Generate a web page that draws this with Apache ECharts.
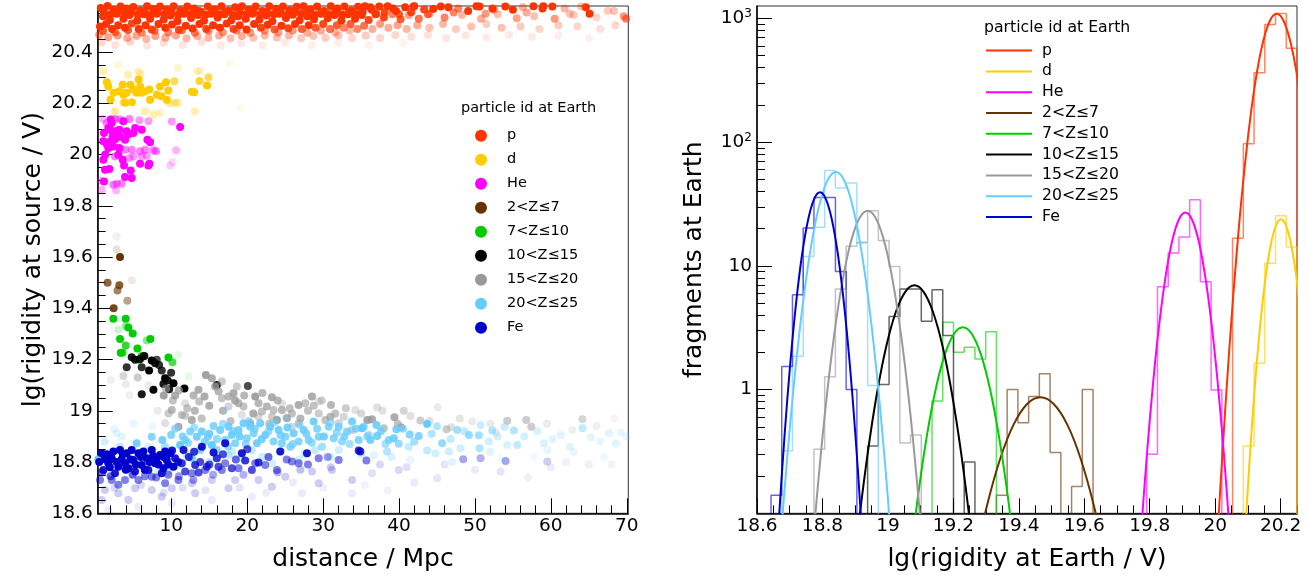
<!DOCTYPE html>
<html><head><meta charset="utf-8">
<script src="https://cdn.jsdelivr.net/npm/echarts@6/dist/echarts.min.js"></script>
<style>html,body{margin:0;padding:0;background:#fff}#c{width:1307px;height:585px}</style>
</head><body><div id="c"></div>
<script>
const FONT = 'DejaVu Sans';
const particleNames = ['p','d','He','2<Z≤7','7<Z≤10','10<Z≤15','15<Z≤20','20<Z≤25','Fe'];
const particleColors = ['#ff3300','#ffcc00','#ff00ff','#663300','#00cc00','#000000','#999999','#66ccff','#0000cc'];

// tick labels
const distTicks = [10,20,30,40,50,60,70];
const srcRigTicks = [18.6,18.8,19,19.2,19.4,19.6,19.8,20,20.2,20.4];
const earthRigTicks = [18.6,18.8,19,19.2,19.4,19.6,19.8,20,20.2];
const countTicks = [1,10,100,1000];

// left panel: [distance / Mpc, lg(rigidity at source / V), weight-opacity]
const ptsP = [
[0.7,20.572,1],[1.6,20.58,1],[2.4,20.565,1],[3.3,20.578,1],[4.1,20.57,1],[5.0,20.576,1],[5.9,20.562,1],[6.8,20.579,1],[7.6,20.568,1],[8.5,20.578,1],[9.4,20.566,1],[10.3,20.579,1],[11.2,20.563,1],[12.1,20.578,1],[13.0,20.57,1],[13.9,20.558,1],[14.8,20.578,1],[15.7,20.566,1],[16.6,20.579,1],[17.5,20.561,1],[18.4,20.575,1],[19.3,20.579,1],[20.2,20.565,1],[21.1,20.578,1],[22.0,20.56,1],[22.9,20.579,1],[23.8,20.569,1],[24.7,20.578,1],[25.6,20.563,1],[26.5,20.577,1],[27.4,20.579,1],[28.3,20.566,1],[29.2,20.578,1],[30.1,20.56,1],[31.0,20.579,1],[31.9,20.57,1],[32.8,20.578,1],[33.7,20.562,1],[34.6,20.577,1],[35.5,20.579,1],[36.4,20.565,1],[37.4,20.578,1],[38.5,20.579,1],[39.6,20.56,1],[40.8,20.575,1],[42.0,20.579,1],[43.3,20.566,0.9],[45.5,20.578,1],[47.8,20.57,0.6],[50.2,20.579,1],[52.5,20.565,0.5],[54.0,20.578,1],[56.3,20.575,0.4],[59.0,20.579,1],[61.8,20.57,0.35],[64.0,20.578,0.3],[67.5,20.56,0.25],
[36.2,20.575,1],[39.2,20.57,1],[41.9,20.578,1],[44.5,20.568,1],[46.5,20.575,1],[49.1,20.56,1],[50.6,20.578,1],[52.3,20.57,1],[55.0,20.565,1],[57.7,20.579,1],[58.9,20.57,1],[60.2,20.578,1],[64.6,20.575,1],[65.1,20.55,1],[68.3,20.56,0.3],[69.9,20.53,0.6],
[1.1,20.556,1],[2.0,20.548,1],[2.9,20.56,1],[3.8,20.55,1],[4.7,20.558,1],[5.6,20.546,1],[6.5,20.556,1],[7.3,20.545,1],[8.2,20.558,1],[9.1,20.548,1],[10.0,20.557,1],[10.9,20.545,1],[11.8,20.556,1],[12.7,20.55,1],[13.6,20.56,1],[14.5,20.546,1],[15.4,20.556,1],[16.3,20.548,1],[17.2,20.558,1],[18.1,20.545,1],[19.0,20.556,1],[19.9,20.548,1],[20.8,20.558,1],[21.7,20.546,1],[22.6,20.556,1],[23.5,20.548,1],[24.4,20.56,1],[25.3,20.546,1],[26.2,20.556,1],[27.1,20.55,1],[28.0,20.558,1],[28.9,20.546,1],[29.8,20.556,1],[30.7,20.548,1],[31.6,20.558,1],[32.5,20.546,1],[33.4,20.556,1],[34.3,20.548,1],[35.2,20.558,1],[36.9,20.548,0.9],[38.1,20.556,0.9],[40.0,20.548,0.8],[41.6,20.556,0.9],[43.8,20.548,0.7],[47.2,20.555,0.6],[51.4,20.55,0.5],[56.8,20.555,0.4],[62.5,20.55,0.3],
[1.0,20.54,1],[1.9,20.525,1],[2.8,20.55,1],[3.7,20.53,1],[4.5,20.545,1],[5.5,20.522,1],[6.4,20.548,1],[7.2,20.53,1],[8.1,20.55,1],[9.0,20.527,1],[9.9,20.543,1],[10.8,20.52,1],[11.7,20.55,1],[12.6,20.533,1],[13.5,20.545,1],[14.3,20.522,1],[15.2,20.55,1],[16.1,20.535,1],[17.0,20.548,1],[17.9,20.524,1],[18.8,20.54,1],[19.8,20.53,1],[20.7,20.55,1],[21.6,20.526,1],[22.5,20.543,1],[23.3,20.52,1],[24.2,20.55,1],[25.1,20.533,1],[26.0,20.546,1],[26.9,20.524,1],[27.9,20.54,1],[28.8,20.528,1],[29.7,20.55,1],[30.6,20.532,1],[31.5,20.545,1],[32.4,20.523,1],[33.3,20.548,1],[34.2,20.53,1],[35.1,20.545,1],[36.0,20.525,0.9],[37.0,20.55,0.8],[38.0,20.535,0.9],[39.1,20.548,0.6],[40.2,20.528,0.8],[41.3,20.545,0.5],[42.6,20.53,0.7],[44.0,20.55,0.45],[46.0,20.535,0.6],[48.3,20.545,0.35],[50.8,20.53,0.4],[53.0,20.548,0.3],[55.5,20.532,0.45],[57.8,20.54,0.3],[60.5,20.53,0.5],[63.0,20.545,0.25],[66.0,20.535,0.2],[69.6,20.54,0.5],
[0.6,20.5,1],[1.4,20.51,1],[2.2,20.49,1],[3.0,20.505,1],[3.9,20.495,1],[4.8,20.512,0.9],[5.7,20.49,1],[6.6,20.505,1],[7.4,20.488,0.9],[8.3,20.51,1],[9.2,20.495,1],[10.1,20.508,1],[11.0,20.487,0.9],[11.9,20.503,1],[12.8,20.492,1],[13.7,20.51,1],[14.6,20.49,0.9],[15.5,20.505,1],[16.4,20.495,1],[17.3,20.512,1],[18.2,20.49,0.9],[19.0,20.505,1],[19.9,20.488,1],[20.9,20.51,1],[21.8,20.495,0.9],[22.7,20.507,1],[23.6,20.488,0.8],[24.5,20.503,1],[25.4,20.493,0.9],[26.3,20.51,1],[27.2,20.49,0.8],[28.1,20.505,1],[29.0,20.495,0.8],[30.0,20.51,0.9],[30.9,20.49,0.7],[31.8,20.505,0.8],[32.7,20.495,0.6],[33.6,20.51,0.8],[34.5,20.49,0.6],[35.4,20.503,0.7],[36.5,20.49,0.4],[37.5,20.51,0.5],[38.6,20.495,0.4],[39.8,20.505,0.45],[41.0,20.49,0.35],[42.4,20.505,0.4],[44.0,20.495,0.3],[45.8,20.51,0.35],[47.5,20.49,0.25],[49.5,20.5,0.3],[51.5,20.51,0.25],[53.5,20.495,0.3],[56.0,20.5,0.25],[58.5,20.49,0.2],[61.0,20.505,0.25],[63.5,20.5,0.2],[66.5,20.49,0.15],[68.5,20.505,0.2],
[1.0,20.482,0.8],[2.6,20.478,0.7],[4.3,20.485,0.8],[6.1,20.476,0.6],[7.8,20.483,0.7],[9.6,20.477,0.6],[11.4,20.485,0.7],[13.1,20.476,0.6],[14.9,20.483,0.6],[16.8,20.477,0.5],[18.6,20.484,0.6],[20.4,20.476,0.5],[22.3,20.483,0.5],[24.1,20.477,0.45],[26.0,20.484,0.5],[27.9,20.476,0.4],[29.7,20.483,0.4],[31.6,20.477,0.35],[33.5,20.484,0.35],
[0.5,20.468,0.5],[1.7,20.458,0.45],[2.9,20.465,0.5],[4.2,20.455,0.4],[5.4,20.464,0.45],[6.7,20.452,0.35],[7.9,20.463,0.45],[9.2,20.456,0.4],[10.6,20.465,0.45],[12.0,20.454,0.35],[13.4,20.463,0.4],[14.9,20.456,0.35],[16.3,20.465,0.4],[17.8,20.454,0.3],[19.3,20.463,0.4],[20.8,20.456,0.3],[22.3,20.465,0.35],[23.9,20.457,0.3],[25.5,20.465,0.35],[27.1,20.454,0.25],[28.7,20.463,0.3],[30.3,20.456,0.25],[32.0,20.465,0.3],[33.8,20.454,0.2],[35.6,20.465,0.25],[37.5,20.455,0.2],[39.5,20.467,0.2],[41.6,20.46,0.15],[43.8,20.467,0.15],[46.2,20.455,0.12],[48.8,20.465,0.12],[51.5,20.457,0.1],[54.5,20.467,0.1],[57.5,20.46,0.1],[61.0,20.465,0.08],[65.0,20.455,0.08],
[0.8,20.438,0.2],[2.6,20.428,0.15],[4.6,20.44,0.2],[6.8,20.426,0.12],[9.0,20.437,0.15],[11.5,20.428,0.12],[14.0,20.44,0.15],[16.5,20.426,0.1],[19.2,20.436,0.12],[22.0,20.426,0.1],[25.0,20.438,0.1],[28.5,20.428,0.08],[32.0,20.436,0.08],[36.0,20.428,0.06],[40.5,20.436,0.06]
];
const ptsD = [
[1.7,20.266,1],[1.5,20.282,1],[2.4,20.241,1],[2.0,20.214,1],[3.15,20.247,1],[3.7,20.234,1],[3.6,20.273,1],[4.1,20.241,1],[4.6,20.273,1],[5.0,20.254,1],[5.4,20.241,1],[5.7,20.293,1],[5.9,20.266,1],[6.1,20.241,1],[6.5,20.247,1],[7.1,20.254,1],[3.9,20.202,1],[4.8,20.204,1],[7.2,20.214,1],[8.1,20.234,1],[8.5,20.266,1],[8.7,20.228,1],[9.3,20.282,1],[9.6,20.25,1],[9.4,20.214,1],[10.4,20.286,0.7],[12.7,20.245,1],[13.0,20.243,1],[13.7,20.287,0.8],[14.7,20.27,1],[14.9,20.302,0.7],
[1.04,20.325,0.3],[4.3,20.312,0.3],[5.66,20.325,0.25],[2.58,20.169,0.4],[7.64,20.156,0.3],[10.5,20.202,0.4],[10.8,20.202,0.35],[13.1,20.169,0.3],[13.4,20.325,0.25],[13.8,20.325,0.2],[10.85,20.338,0.2],[17.7,20.357,0.1],[19.1,20.183,0.1],[3.0,20.35,0.15],[5.9,20.316,0.3],[9.8,20.2,0.4],[3.7,20.204,0.5],[6.54,20.169,0.3],[8.5,20.163,0.25]
];
const ptsHe = [
[1.13,20.084,1],[1.7,20.104,1],[1.92,20.097,1],[2.14,20.123,1],[2.36,20.091,1],[1.04,20.052,1],[2.01,20.052,1],[1.7,20.026,1],[2.36,20.032,1],[3.15,20.026,1],[2.27,20.071,1],[2.8,20.091,1],[3.15,20.097,1],[3.9,20.058,1],[4.12,20.091,1],[4.34,20.078,1],[5.0,20.084,1],[5.24,20.104,1],[6.1,20.097,1],[6.85,20.058,1],[7.2,20.048,1],[3.68,20.13,1],[2.01,20.137,1],[1.04,19.98,1],[1.26,19.941,1],[1.83,19.944,1],[3.02,19.999,1],[3.59,19.98,1],[3.77,19.957,1],[5.88,19.964,1],[6.98,19.957,1],[7.11,19.964,1],[4.65,19.938,1],[3.9,19.913,1],[4.78,19.909,1],[1.13,19.895,1],[11.16,20.108,1],[1.3,20.0,1],[2.6,20.06,1],[1.5,20.04,1],[3.3,20.07,1],
[1.48,20.123,0.5],[2.58,20.139,0.5],[3.24,20.137,0.5],[4.47,20.139,0.5],[5.79,20.134,0.4],[6.98,20.13,0.4],[10.06,20.129,0.4],[3.9,20.019,0.5],[4.78,20.019,0.5],[5.88,20.013,0.5],[6.54,20.019,0.5],[7.64,20.017,0.5],[7.99,20.013,0.5],[10.63,20.017,0.3],[2.58,19.993,0.5],[4.47,19.987,0.4],[5.0,19.993,0.4],[6.1,19.993,0.4],[6.76,19.996,0.4],[2.36,19.882,0.5],[2.8,19.886,0.5],[3.46,19.886,0.5],[2.71,19.861,0.3],[0.82,19.863,0.3],[0.69,19.899,0.3],[9.84,19.957,0.2],[10.19,19.97,0.15],[0.96,20.139,0.3]
];
const ptsZ2 = [[3.24,19.6,1],[1.6,19.5,0.75],[3.15,19.49,0.8],[2.9,19.47,0.6],[4.2,19.43,0.45],[2.4,19.4,0.9],[2.8,19.63,0.15],[4.8,19.51,0.1],[2.8,19.68,0.08]];
const ptsZ7 = [[2.36,19.359,1],[3.99,19.359,1],[4.34,19.325,1],[4.91,19.302,1],[3.24,19.28,1],[3.99,19.255,0.8],[5.53,19.243,1],[3.33,19.227,1],[3.59,19.227,0.8],[7.24,19.28,1],[6.76,19.274,0.45],[6.1,19.214,0.9],[5.75,19.199,0.9],[9.62,19.208,1],[10.15,19.19,0.7],[3.02,19.316,0.2],[10.94,19.218,0.1],[12.26,19.134,0.1],[4.0,19.33,0.4]];
const ptsZ10 = [[4.78,19.209,0.9],[5.22,19.199,0.9],[5.88,19.202,0.9],[6.45,19.214,0.9],[4.12,19.17,0.8],[6.1,19.17,0.8],[7.07,19.157,1],[7.42,19.196,1],[7.86,19.186,0.9],[8.39,19.179,0.8],[8.74,19.157,0.8],[9.18,19.127,1],[9.53,19.118,0.9],[8.96,19.105,0.9],[9.97,19.149,0.8],[10.28,19.108,1],[9.71,19.084,0.9],[11.73,19.087,1],[7.64,19.082,1],[6.1,19.065,0.9],[16.0,19.101,0.9],[20.08,19.097,0.7],[6.32,19.212,0.6],[8.08,19.199,0.7]];
const ptsZ15 = [
[3.68,19.136,0.4],[3.99,19.104,0.2],[5.57,19.13,0.5],[9.0,19.06,0.9],[9.31,19.086,0.6],[10.5,19.06,0.8],[9.62,18.99,0.5],[10.06,19.003,0.7],[10.94,18.938,0.8],[11.38,18.984,0.6],[11.82,18.981,0.5],[12.7,18.964,0.8],[12.92,19.06,0.7],[13.58,19.082,0.8],[14.37,19.056,0.8],[13.67,19.036,0.6],[14.55,19.14,0.9],[15.34,19.127,0.8],[15.78,19.095,0.8],[16.22,19.075,0.7],[16.65,19.049,0.6],[17.53,19.056,0.7],[18.19,19.069,0.8],[18.85,19.03,0.7],[19.51,19.017,0.6],[20.39,18.951,0.8],[21.05,19.056,0.9],[21.49,19.03,0.7],[21.93,18.997,0.6],[22.59,19.017,0.7],[23.25,19.053,0.8],[23.47,19.003,0.6],[23.91,18.964,0.9],[24.57,19.003,0.7],[25.23,18.971,0.8],[25.89,18.99,0.6],[26.77,19.023,0.8],[27.65,19.03,0.6],[28.53,19.056,0.8],[28.75,19.02,0.6],[29.41,18.99,0.5],[30.29,18.964,0.6],[31.03,19.023,0.7],[30.95,18.977,0.7],[32.71,18.977,0.4],[33.81,18.925,0.5],[32.05,18.951,0.4],[26.77,18.951,0.5],[25.89,18.938,0.4],[23.25,18.977,0.5],[17.53,19.017,0.4],[18.63,19.095,0.5],[16.65,19.114,0.5],[11.82,19.03,0.3],[9.18,18.951,0.3],[19.29,18.984,0.3],[21.49,18.977,0.4],[36.0,18.964,0.4],[24.57,19.03,0.3],[29.41,19.036,0.3],[34.25,19.003,0.3],
[35.8,18.964,0.8],[36.44,18.967,0.8],[37.98,18.932,0.6],[39.39,18.975,0.8],[39.83,18.949,0.6],[40.27,18.936,0.7],[40.62,19.0,0.4],[42.82,18.962,0.5],[46.25,18.928,0.5],[46.87,18.936,0.3],[54.25,18.961,0.5],[56.76,18.964,0.5],[57.42,18.938,0.5],[64.15,18.967,0.4],[37.1,19.014,0.3],[45.1,19.014,0.2],[49.64,18.958,0.2],[52.71,18.915,0.2],[62.83,18.925,0.15],[68.33,18.971,0.1],
[10.2,19.04,0.6],[11.0,19.08,0.7],[12.1,19.01,0.6],[13.1,19.0,0.7],[14.0,18.97,0.6],[15.0,19.02,0.8],[16.8,19.0,0.7],[17.8,18.96,0.6],[18.4,19.04,0.8],[19.6,19.06,0.7],[20.8,18.99,0.8],[22.0,19.07,0.7],[22.9,18.95,0.6],[24.0,19.04,0.7],[25.6,19.01,0.6],[27.0,18.97,0.7],[28.0,19.0,0.6],[29.8,19.04,0.5],[31.6,18.99,0.6],[33.0,19.01,0.5],[35.0,18.99,0.4],[37.8,19.0,0.3],[41.5,18.98,0.3],[44.0,18.96,0.3],[48.0,18.97,0.25],[52.0,18.95,0.2],[59.5,18.95,0.2],[66.0,18.94,0.15],
[2.0,19.12,0.15],[4.5,19.06,0.15],[7.0,19.1,0.2],[8.2,19.0,0.2]
];
const ptsZ20 = [
[0.38,18.811,1],[5.44,18.873,0.9],[7.42,18.899,0.8],[8.83,18.886,0.9],[9.18,18.86,0.6],[9.97,18.906,0.8],[11.16,18.867,1],[11.82,18.886,0.8],[12.48,18.919,0.8],[12.7,18.815,0.9],[13.36,18.899,0.9],[13.8,18.847,0.8],[14.02,18.919,0.9],[14.81,18.899,0.8],[15.34,18.867,1],[15.56,18.941,0.8],[15.99,18.847,0.7],[16.43,18.925,0.9],[17.09,18.886,0.8],[17.53,18.938,0.9],[17.97,18.906,0.9],[18.41,18.873,0.8],[18.85,18.925,0.9],[19.51,18.951,0.9],[19.95,18.893,0.8],[20.39,18.938,0.9],[20.83,18.912,0.8],[21.27,18.873,0.9],[21.71,18.951,0.9],[22.37,18.906,0.9],[23.03,18.938,0.9],[23.47,18.88,0.8],[24.13,18.925,0.9],[24.57,18.873,0.8],[25.01,18.899,0.8],[25.67,18.86,0.8],[26.11,18.912,0.9],[26.77,18.88,0.8],[27.43,18.925,0.9],[28.09,18.886,0.8],[28.75,18.958,0.9],[29.41,18.899,0.8],[29.85,18.86,0.6],[30.73,18.938,0.8],[31.39,18.893,0.8],[32.05,18.938,0.8],[32.49,18.88,0.7],[33.15,18.919,0.8],[33.81,18.958,0.9],[34.68,18.886,0.8],[35.34,18.938,0.8],[36.0,18.906,0.6],
[24.35,18.841,0.4],[26.77,18.808,0.3],[28.97,18.847,0.4],[32.05,18.847,0.3],[23.25,18.795,0.3],[20.61,18.847,0.4],[17.53,18.828,0.4],[19.29,18.815,0.3],[10.94,18.789,0.4],[9.62,18.763,0.4],[8.3,18.763,0.3],[6.98,18.86,0.3],[3.46,18.899,0.2],[4.78,18.815,0.3],[2.8,18.912,0.2],[17.09,19.003,0.2],[25.01,18.977,0.2],
[35.13,18.932,1],[36.22,18.886,0.9],[37.02,18.945,0.9],[37.1,18.902,0.9],[38.64,18.886,0.8],[39.3,18.893,0.9],[39.65,18.928,0.9],[39.96,18.871,0.7],[41.41,18.908,0.8],[42.6,18.902,0.8],[43.7,18.949,1],[45.68,18.873,0.7],[47.66,18.925,0.6],[49.2,18.906,0.7],[50.52,18.905,0.6],[50.6,18.854,0.5],[52.28,18.923,0.5],[55.13,18.923,0.5],[55.57,18.867,0.4],[64.15,18.932,0.4],[38.42,18.841,0.5],[41.28,18.86,0.4],[43.7,18.845,0.4],[44.8,18.834,0.3],[46.56,18.841,0.3],[48.1,18.854,0.3],[54.25,18.867,0.25],[59.09,18.873,0.25],[61.29,18.906,0.2],[65.25,18.897,0.2],[67.67,18.912,0.2],[68.55,18.871,0.2],[59.53,18.847,0.15],[57.77,18.821,0.1],[53.37,18.815,0.1],[41.5,18.808,0.15],[36.66,18.828,0.2],[50.74,18.945,0.35],[53.9,18.938,0.35],[69.2,18.915,0.15],
[2.5,18.93,0.15],[5.0,18.95,0.15],[7.5,18.94,0.12],[1.2,18.88,0.3],[3.2,18.86,0.4],
[10.5,18.93,0.7],[11.5,18.9,0.8],[12.2,18.875,0.7],[13.0,18.935,0.6],[14.4,18.88,0.8],[15.0,18.91,0.9],[16.0,18.89,0.7],[16.8,18.95,0.6],[17.5,18.86,0.7],[18.2,18.92,0.8],[19.0,18.9,0.9],[19.8,18.87,0.7],[20.2,18.96,0.6],[21.0,18.93,0.8],[21.9,18.89,0.9],[22.8,18.92,0.7],[23.6,18.955,0.6],[24.4,18.905,0.8],[25.3,18.935,0.9],[26.0,18.87,0.7],[26.9,18.945,0.6],[27.8,18.91,0.8],[28.5,18.875,0.7],[29.2,18.93,0.8],[30.1,18.9,0.9],[31.0,18.955,0.6],[31.8,18.915,0.7],[32.8,18.9,0.8],[33.5,18.87,0.6],[34.3,18.93,0.8],[35.8,18.9,0.7],[37.6,18.92,0.8],[38.2,18.87,0.6],[40.5,18.93,0.7],[42.0,18.88,0.6],[44.3,18.91,0.5],[45.0,18.94,0.5],[46.8,18.89,0.4],[48.6,18.92,0.4],[51.8,18.88,0.3],[53.0,18.9,0.3],[56.5,18.9,0.3],[58.2,18.92,0.25],[60.2,18.89,0.2],[62.5,18.86,0.2],[66.5,18.88,0.15],[70.0,18.9,0.15],
[12.0,18.83,0.4],[15.0,18.8,0.35],[18.0,18.84,0.35],[22.0,18.82,0.35],[27.5,18.83,0.3],[31.0,18.82,0.3],[35.0,18.83,0.3],[39.0,18.82,0.25],[47.0,18.8,0.2],[52.0,18.84,0.2],[63.0,18.84,0.15],[67.0,18.82,0.12]
];
const ptsFe = [
[0.82,18.834,1],[1.7,18.795,1],[2.36,18.841,1],[3.02,18.782,1],[3.46,18.811,1],[4.12,18.834,1],[4.34,18.776,1],[5.0,18.808,1],[5.66,18.834,1],[6.1,18.789,1],[6.76,18.815,1],[7.42,18.847,1],[7.86,18.795,1],[8.52,18.828,1],[8.96,18.776,1],[9.4,18.808,1],[9.84,18.834,1],[10.28,18.782,1],[1.04,18.769,0.9],[2.58,18.756,0.9],[5.22,18.763,0.9],[6.98,18.769,0.9],[8.74,18.756,0.9],[3.9,18.795,1],[2.14,18.815,1],[6.32,18.841,1],[8.08,18.815,1],[3.24,18.847,1],[1.26,18.815,1],[4.78,18.847,1],[9.18,18.841,1],[10.5,18.815,0.9],[11.6,18.847,0.9],[14.02,18.86,0.9],[15.56,18.837,0.9],[15.99,18.815,0.8],[17.09,18.873,0.9],[19.29,18.834,0.9],[19.73,18.806,0.8],[21.49,18.798,0.8],[24.35,18.841,0.9],[27.87,18.834,0.9],[34.68,18.845,0.8],[11.38,18.795,0.8],[13.14,18.789,0.8],[14.68,18.782,0.7],[16.21,18.782,0.7],[17.97,18.776,0.7],[20.61,18.769,0.7],[11.82,18.763,0.7],[13.58,18.759,0.7],
[0.5,18.8,1],[1.5,18.83,1],[1.9,18.78,1],[2.8,18.8,1],[3.6,18.83,1],[4.0,18.77,1],[4.6,18.81,1],[5.3,18.79,1],[6.0,18.82,1],[6.5,18.77,1],[7.1,18.8,1],[7.6,18.825,1],[8.3,18.79,1],[9.0,18.82,1],[9.6,18.79,1],[10.1,18.845,0.9],[10.9,18.8,0.9],[12.3,18.82,0.8],[13.0,18.84,0.8],[13.8,18.8,0.7],[15.0,18.79,0.7],[16.8,18.83,0.7],[18.5,18.81,0.6],[20.0,18.85,0.7],[22.8,18.82,0.6],[25.2,18.81,0.5],[28.0,18.79,0.5],[30.6,18.82,0.4],
[0.9,18.76,0.6],[2.0,18.745,0.6],[4.9,18.75,0.6],[6.5,18.745,0.5],[8.0,18.74,0.5],[9.6,18.75,0.5],[11.0,18.745,0.4],[12.9,18.73,0.4],[15.5,18.75,0.35],[19.5,18.75,0.3],[24.0,18.76,0.3],[27.0,18.77,0.25],[31.0,18.78,0.2],[37.5,18.79,0.15],[41.0,18.78,0.12],[46.0,18.79,0.1],[50.0,18.77,0.08],[62.0,18.8,0.06],[68.0,18.79,0.05],
[3.9,18.73,0.5],[5.66,18.73,0.5],[7.42,18.743,0.5],[9.18,18.717,0.5],[10.94,18.73,0.5],[12.7,18.756,0.5],[14.46,18.769,0.5],[16.65,18.769,0.5],[18.85,18.776,0.5],[22.37,18.789,0.5],[25.89,18.802,0.5],[29.41,18.815,0.5],[0.6,18.73,0.5],[2.14,18.73,0.5],[3.02,18.711,0.5],[17.09,18.795,0.5],[21.05,18.795,0.5],[23.91,18.769,0.5],[26.77,18.795,0.5],[32.05,18.808,0.5],
[1.26,18.691,0.2],[3.02,18.678,0.2],[5.22,18.698,0.2],[7.42,18.691,0.2],[10.06,18.698,0.2],[12.7,18.717,0.2],[15.34,18.73,0.2],[18.41,18.73,0.2],[21.49,18.73,0.2],[25.01,18.743,0.2],[28.53,18.763,0.2],[31.17,18.769,0.2],[33.81,18.73,0.2],[0.82,18.652,0.2],[4.34,18.652,0.2],[8.74,18.665,0.2],[13.14,18.678,0.2],[17.53,18.698,0.2],[23.25,18.704,0.2],[29.41,18.717,0.2],
[2.5,18.7,0.15],[6.0,18.71,0.15],[9.0,18.68,0.12],[11.5,18.7,0.12],[14.5,18.69,0.1],[19.0,18.7,0.1],[22.5,18.68,0.08],[26.0,18.72,0.08],[30.0,18.7,0.06],[35.5,18.71,0.05],[38.5,18.69,0.05],
[1.7,18.613,0.08],[5.66,18.626,0.08],[10.06,18.639,0.08],[15.34,18.652,0.08],[20.61,18.665,0.08],[27.21,18.678,0.08],[33.81,18.678,0.08],
[34.9,18.841,0.8],[35.7,18.806,0.5],[48.45,18.811,0.35],[50.74,18.815,0.3],[54.03,18.804,0.35],[59.53,18.802,0.2],[39.96,18.769,0.15],[36.44,18.756,0.12],[45.02,18.737,0.1],[53.37,18.763,0.1],[60,18.78,0.08],[65,18.79,0.06],[42,18.72,0.08],[57,18.74,0.06]
];

// right panel histograms: bin edges start at 18.61, width 0.0328 (50 bins)
const binStart = 18.61, binWidth = 0.0328;
const histFirstBin = [44, 45, 36, 22, 16, 10, 5, 2, 1];
const histP   = [16.7, 97, 363, 891, 1094, 575];
const histD   = [0.35, 1.63, 10.5, 25.4, 14.2];
const histHe  = [0.30, 6.77, 12.7, 17.1, 34.3, 7.45, 0.99];
const histZ2  = [0.14, 1.0, 0.54, 0.88, 1.34, 0.31, 0, 0.165, 1.0];
const histZ7  = [0.81, 3.5, 2.0, 2.2, 1.77, 2.94];
const histZ10 = [0.35, 1.1, 3.9, 6.5, 6.5, 3.56, 6.4, 2.73, 0, 0.26];
const histZ15 = [0.33, 1.27, 6.5, 14.4, 15.5, 27.9, 16, 9.9, 0.37, 0.43];
const histZ20 = [0.32, 1.86, 11.9, 20.5, 59, 42.6, 46.7, 15.3, 1.08];
const histFe  = [0.14, 1.54, 5.85, 20.2, 35.7, 35.7, 9.0, 1.0];

// fitted curves: [lg rigidity at Earth, fragments]
const fitP = [[19.983,0.0036],[20.0035,0.0436],[20.024,0.3657],[20.0445,2.384],[20.065,12.11],[20.0855,47.9],[20.106,147.5],[20.1265,353.9],[20.147,661.1],[20.1675,961.9],[20.188,1090],[20.2085,961.9],[20.229,661.1],[20.2495,353.9],[20.27,147.5]];
const fitD = [[20.073,0.008],[20.089,0.052],[20.105,0.2644],[20.121,1.046],[20.137,3.22],[20.153,7.73],[20.169,14.43],[20.185,21.0],[20.201,23.8],[20.217,21.0],[20.233,14.43],[20.249,7.73],[20.265,3.22]];
const fitHe = [[19.7522,0.00906],[19.7718,0.059],[19.7914,0.3],[19.811,1.186],[19.8306,3.653],[19.8502,8.77],[19.8698,16.38],[19.8894,23.83],[19.909,27],[19.9286,23.83],[19.9482,16.38],[19.9678,8.77],[19.9874,3.653],[20.007,1.186],[20.0266,0.3],[20.0462,0.059],[20.0658,0.00906]];
const fitZ2 = [[19.222,0.00963],[19.2628,0.0381],[19.3034,0.1173],[19.3441,0.2815],[19.3847,0.526],[19.4254,0.765],[19.466,0.867],[19.5067,0.765],[19.5473,0.526],[19.588,0.2815],[19.6286,0.1173],[19.6693,0.0381],[19.71,0.00963]];
const fitZ7 = [[19.0103,0.0011],[19.0376,0.00698],[19.0649,0.0354],[19.0923,0.14],[19.1196,0.432],[19.147,1.036],[19.1743,1.935],[19.2017,2.815],[19.229,3.19],[19.2564,2.815],[19.2837,1.935],[19.3111,1.036],[19.3384,0.432],[19.3658,0.14],[19.3931,0.0354],[19.4205,0.00698],[19.4478,0.0011]];
const fitZ10 = [[18.8527,0.0023],[18.8812,0.0152],[18.9097,0.0773],[18.9383,0.306],[18.9668,0.942],[18.9954,2.26],[19.0239,4.22],[19.0525,6.14],[19.081,6.96],[19.1096,6.14],[19.1381,4.22],[19.1667,2.26],[19.1952,0.942],[19.2238,0.306],[19.2523,0.0773],[19.2809,0.0152],[19.3094,0.0023]];
const fitZ15 = [[18.748,0.0094],[18.7718,0.061],[18.7955,0.31],[18.8193,1.226],[18.843,3.775],[18.8668,9.06],[18.8905,16.92],[18.9143,24.62],[18.938,27.9],[18.9618,24.62],[18.9855,16.92],[19.0093,9.06],[19.033,3.775],[19.0568,1.226],[19.0805,0.31],[19.1043,0.061],[19.128,0.0094]];
const fitZ20 = [[18.6586,0.0192],[18.6814,0.1253],[18.7042,0.637],[18.727,2.518],[18.7498,7.75],[18.7726,18.61],[18.7954,34.75],[18.8182,50.57],[18.841,57.3],[18.8638,50.57],[18.8866,34.75],[18.9094,18.61],[18.9322,7.75],[18.955,2.518],[18.9778,0.637],[19.0006,0.1253],[19.0234,0.0192]];
const fitFe = [[18.6485,0.0132],[18.6665,0.086],[18.6845,0.437],[18.7025,1.727],[18.7205,5.32],[18.7385,12.76],[18.7565,23.84],[18.7745,34.68],[18.7925,39.3],[18.8105,34.68],[18.8285,23.84],[18.8465,12.76],[18.8645,5.32],[18.8825,1.727],[18.9005,0.437],[18.9185,0.086],[18.9365,0.0132]];

const scatterSets = [ptsP, ptsD, ptsHe, ptsZ2, ptsZ7, ptsZ10, ptsZ15, ptsZ20, ptsFe];
const histSets = [histP, histD, histHe, histZ2, histZ7, histZ10, histZ15, histZ20, histFe];
const fitSets = [fitP, fitD, fitHe, fitZ2, fitZ7, fitZ10, fitZ15, fitZ20, fitFe];
const FIT = ' fit';

function histOutline(first, counts) {
  const floor = 0.001;
  const edge = j => +(binStart + binWidth * j).toFixed(4);
  const out = [[edge(first), floor]];
  counts.forEach((c, i) => {
    const v = c > 0 ? c : floor;
    out.push([edge(first + i), v], [edge(first + i + 1), v]);
  });
  out.push([edge(first + counts.length), floor]);
  return out;
}
function between(major, step, lo, hi) {
  const r = [];
  for (let v = lo; v <= hi + 1e-9; v += step) {
    const x = +v.toFixed(4);
    if (!major.some(m => Math.abs(m - x) < 1e-6)) r.push(x);
  }
  return r;
}
const logMinor = [];
[0.1, 1, 10, 100].forEach(d => { for (let k = 2; k <= 9; k++) logMinor.push(+(d * k).toPrecision(3)); });

const labelStyle = { fontFamily: FONT, fontSize: 18.5, color: '#000' };
const nameStyle = { fontFamily: FONT, fontSize: 25, color: '#000' };
const lineBlack = { color: '#000', width: 1 };

const series = [];
scatterSets.forEach((pts, i) => {
  series.push({
    type: 'scatter', name: particleNames[i], xAxisIndex: 0, yAxisIndex: 0,
    symbol: 'circle', symbolSize: 8, itemStyle: { color: particleColors[i], opacity: 1 },
    data: pts.map(p => ({ value: [p[0], p[1]], itemStyle: { opacity: p[2] } }))
  });
});
histSets.forEach((h, i) => {
  series.push({
    type: 'line', name: particleNames[i] + ' hist', xAxisIndex: 2, yAxisIndex: 2,
    symbol: 'none', lineStyle: { color: particleColors[i], width: 1.5, opacity: 0.6 },
    data: histOutline(histFirstBin[i], h), z: 2
  });
});
fitSets.forEach((f, i) => {
  series.push({
    type: 'line', name: particleNames[i] + FIT, xAxisIndex: 2, yAxisIndex: 2,
    symbol: 'none', showSymbol: false, smooth: 0.35, itemStyle: { color: particleColors[i] },
    lineStyle: { color: particleColors[i], width: 2 }, data: f, z: 3
  });
});

const option = {
  animation: false,
  backgroundColor: '#fff',
  title: [
    { text: 'particle id at Earth', left: 461, top: 101, padding: 0,
      textStyle: { fontFamily: FONT, fontSize: 14.5, fontWeight: 'normal', color: '#000' } },
    { text: 'particle id at Earth', left: 984, top: 20, padding: 0,
      textStyle: { fontFamily: FONT, fontSize: 15.7, fontWeight: 'normal', color: '#000' } }
  ],
  legend: [
    { orient: 'vertical', left: 475, top: 128.2, padding: 0, itemWidth: 42, itemHeight: 12, itemGap: 9,
      icon: 'circle', data: particleNames, selectedMode: false,
      textStyle: { fontFamily: FONT, fontSize: 14.5, color: '#000' } },
    { orient: 'vertical', left: 986, top: 42.6, padding: 0, itemWidth: 46, itemHeight: 2, itemGap: 4.8,
      icon: 'rect', data: particleNames.map(n => n + FIT), selectedMode: false,
      formatter: n => n.slice(0, -FIT.length),
      textStyle: { fontFamily: FONT, fontSize: 15.7, color: '#000', padding: [0, 0, 0, 5] } }
  ],
  grid: [
    { left: 97.7, top: 6, width: 530.6, height: 507.3, show: true, borderColor: '#333', borderWidth: 1, containLabel: false },
    { left: 757, top: 6, width: 540, height: 507.3, show: true, borderColor: '#333', borderWidth: 1, containLabel: false }
  ],
  xAxis: [
    { gridIndex: 0, type: 'value', min: 0.3, max: 70.2, position: 'bottom',
      axisLine: { onZero: false, lineStyle: { color: '#000', width: 1.5 } },
      axisTick: { inside: true, length: 15, customValues: distTicks, lineStyle: lineBlack },
      axisLabel: Object.assign({ customValues: distTicks, margin: 3 }, labelStyle),
      splitLine: { show: false },
      name: 'distance / Mpc', nameLocation: 'middle', nameGap: 34, nameTextStyle: nameStyle },
    { gridIndex: 0, type: 'value', min: 0.3, max: 70.2, position: 'bottom',
      axisLine: { show: false }, axisLabel: { show: false }, splitLine: { show: false },
      axisTick: { inside: true, length: 8, customValues: between(distTicks, 2, 2, 70), lineStyle: lineBlack } },
    { gridIndex: 1, type: 'value', min: 18.6, max: 20.25, position: 'bottom',
      axisLine: { onZero: false, lineStyle: { color: '#000', width: 1.5 } },
      axisTick: { inside: true, length: 15, customValues: earthRigTicks, lineStyle: lineBlack },
      axisLabel: Object.assign({ customValues: earthRigTicks, margin: 3 }, labelStyle),
      splitLine: { show: false },
      name: 'lg(rigidity at Earth / V)', nameLocation: 'middle', nameGap: 34, nameTextStyle: nameStyle },
    { gridIndex: 1, type: 'value', min: 18.6, max: 20.25, position: 'bottom',
      axisLine: { show: false }, axisLabel: { show: false }, splitLine: { show: false },
      axisTick: { inside: true, length: 8, customValues: between(earthRigTicks, 0.05, 18.65, 20.25), lineStyle: lineBlack } }
  ],
  yAxis: [
    { gridIndex: 0, type: 'value', min: 18.6, max: 20.58, position: 'left',
      axisLine: { onZero: false, lineStyle: { color: '#000', width: 1.5 } },
      axisTick: { inside: true, length: 15, customValues: srcRigTicks, lineStyle: lineBlack },
      axisLabel: Object.assign({ customValues: srcRigTicks, margin: 5 }, labelStyle),
      splitLine: { show: false },
      name: 'lg(rigidity at source / V)', nameLocation: 'middle', nameGap: 52, nameTextStyle: nameStyle },
    { gridIndex: 0, type: 'value', min: 18.6, max: 20.58, position: 'left',
      axisLine: { show: false }, axisLabel: { show: false }, splitLine: { show: false },
      axisTick: { inside: true, length: 8, customValues: between(srcRigTicks, 0.05, 18.65, 20.55), lineStyle: lineBlack } },
    { gridIndex: 1, type: 'log', logBase: 10, min: 0.1, max: 1260, position: 'left',
      axisLine: { onZero: false, lineStyle: { color: '#000', width: 1.5 } },
      axisTick: { inside: true, length: 15, customValues: countTicks, lineStyle: lineBlack },
      axisLabel: Object.assign({ customValues: countTicks, margin: 5,
        formatter: v => (Math.abs(v - 100) < 1e-6 ? '10{s|2}' : Math.abs(v - 1000) < 1e-6 ? '10{s|3}' : String(Math.round(v))),
        rich: { s: { fontFamily: FONT, fontSize: 12, color: '#000', verticalAlign: 'top', padding: [0, 0, 9, 0] } } }, labelStyle),
      splitLine: { show: false },
      name: 'fragments at Earth', nameLocation: 'middle', nameGap: 50, nameTextStyle: nameStyle },
    { gridIndex: 1, type: 'log', logBase: 10, min: 0.1, max: 1260, position: 'left',
      axisLine: { show: false }, axisLabel: { show: false }, splitLine: { show: false },
      axisTick: { inside: true, length: 8, customValues: logMinor, lineStyle: lineBlack } }
  ],
  series: series
};
const chart = echarts.init(document.getElementById('c'), null, { renderer: 'canvas' });
chart.setOption(option);
</script>
</body></html>
